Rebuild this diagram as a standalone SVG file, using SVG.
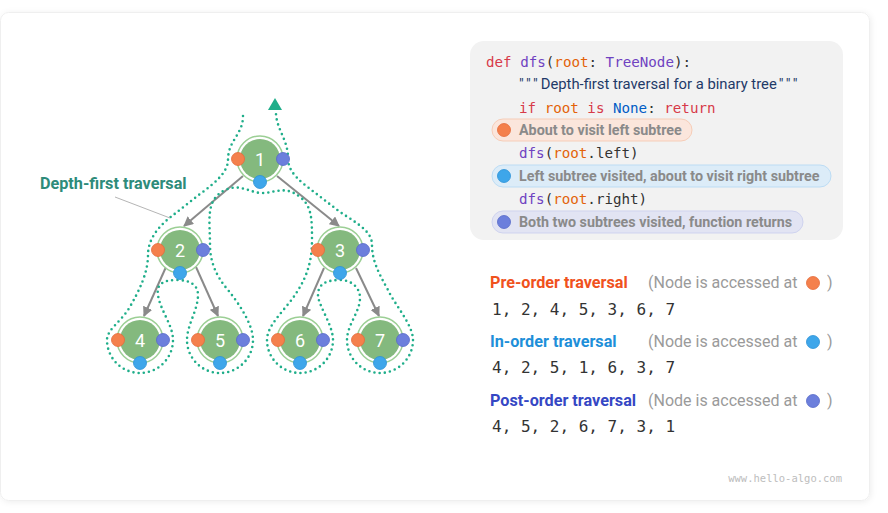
<svg xmlns="http://www.w3.org/2000/svg" width="888" height="513" viewBox="0 0 888 513">
<defs>
<filter id="sh" x="-5%" y="-5%" width="110%" height="110%"><feDropShadow dx="1" dy="1" stdDeviation="3" flood-color="#000" flood-opacity="0.07"/></filter>
<marker id="ah" viewBox="0 0 10 10" refX="9" refY="5" markerWidth="5" markerHeight="5" orient="auto-start-reverse" markerUnits="strokeWidth"><path d="M0,0 L10,5 L0,10 z" fill="#8a8a8a"/></marker>
<style>
.edge{stroke:#8a8a8a;stroke-width:2;fill:none}
.ring{fill:#fff;stroke:#9ccf95;stroke-width:1.5}
.nf{fill:#84b97e}
.nt{font-family:Roboto,"Liberation Sans",sans-serif;font-size:18px;fill:#fff;text-anchor:middle}
.po{fill:#f4804c;stroke:#e56a38;stroke-width:0.8}
.pb{fill:#3ea6ea;stroke:#2a90d6;stroke-width:0.8}
.pp{fill:#6c7fdc;stroke:#5568c8;stroke-width:0.8}
.trail{fill:none;stroke:#1fae8a;stroke-width:2.6;stroke-dasharray:0 5.2;stroke-linecap:round}
.code{font-family:"DejaVu Sans Mono","Liberation Mono",monospace;font-size:14.2px;fill:#333}
.kw{fill:#d73a49}.fn{fill:#6f42c1}.ar{fill:#e36209}.bl{fill:#005cc5}
.doc{font-family:Roboto,"Liberation Sans",sans-serif;font-size:14.8px;fill:#1f3a68}
.pill{font-family:Roboto,"Liberation Sans",sans-serif;font-size:14.3px;font-weight:bold;fill:#8a8a8a}
.h{font-family:Roboto,"Liberation Sans",sans-serif;font-size:16.2px;font-weight:bold}
.note{font-family:Roboto,"Liberation Sans",sans-serif;font-size:16px;fill:#9a9a9a}
.seq{font-family:"DejaVu Sans Mono","Liberation Mono",monospace;font-size:16px;fill:#333}
</style>
</defs>
<rect x="0.5" y="12.5" width="869" height="488" rx="8" fill="#fff" stroke="#efefef" filter="url(#sh)"/>

<g id="connectors">
<line class="edge" x1="243" y1="176" x2="184" y2="226" marker-end="url(#ah)"/>
<line class="edge" x1="277" y1="176" x2="339" y2="226" marker-end="url(#ah)"/>
<line class="edge" x1="166" y1="267" x2="144" y2="316" marker-end="url(#ah)"/>
<line class="edge" x1="196" y1="267" x2="218" y2="316" marker-end="url(#ah)"/>
<line class="edge" x1="324" y1="268" x2="303" y2="316" marker-end="url(#ah)"/>
<line class="edge" x1="356" y1="268" x2="379" y2="316" marker-end="url(#ah)"/>
</g>

<g id="trail">
<path class="trail" d="M 243 116 C 243 135, 228 140, 228 160 C 228 172, 215 183, 200 194 L 172 216 C 160 225, 148 238, 148 255 C 148 272, 140 290, 128 310 C 120 322, 107 330, 107 340 A 33 33 0 0 0 173 340 C 173 325, 160 310, 158 295 C 156 283, 165 280, 177 280 C 190 280, 198 285, 198 295 C 198 310, 187 325, 187 340 A 33 33 0 0 0 253 340 C 253 325, 240 305, 228 290 C 215 275, 210 260, 210 245 C 210 220, 205 200, 225 190 C 240 183, 250 193, 262 193 C 275 193, 285 185, 300 197 C 312 206, 312 220, 312 240 C 312 265, 305 280, 295 295 C 285 310, 267 325, 267 340 A 33 33 0 0 0 333 340 C 333 325, 318 305, 318 295 C 318 283, 328 280, 340 280 C 352 280, 360 288, 360 298 C 360 312, 347 325, 347 340 A 33 33 0 0 0 413 340 C 413 325, 395 305, 388 290 C 378 272, 372 260, 372 245 C 372 232, 360 225, 340 212 L 305 185 C 293 175, 288 168, 288 158 C 288 140, 277 130, 276 114"/>
<polygon points="275,98 282,110 268,110" fill="#1fae8a"/>
</g>

<g id="label">
<text x="40" y="189" font-family="Roboto,'Liberation Sans',sans-serif" font-size="16.2" font-weight="bold" fill="#2e8b7a">Depth-first traversal</text>
<line x1="115" y1="197" x2="170" y2="218" stroke="#b5b5b5" stroke-width="1"/>
</g>

<g id="n1"><circle class="ring" cx="260" cy="159" r="23"/><circle class="nf" cx="260" cy="159" r="20"/><text class="nt" x="260" y="165.5">1</text><circle class="po" cx="238" cy="159" r="6.5"/><circle class="pp" cx="283" cy="159" r="6.5"/><circle class="pb" cx="260" cy="182" r="6.5"/></g>
<g id="n2"><circle class="ring" cx="180" cy="250" r="23"/><circle class="nf" cx="180" cy="250" r="20"/><text class="nt" x="180" y="256.5">2</text><circle class="po" cx="158" cy="250" r="6.5"/><circle class="pp" cx="203" cy="250" r="6.5"/><circle class="pb" cx="180" cy="273" r="6.5"/></g>
<g id="n3"><circle class="ring" cx="340" cy="250" r="23"/><circle class="nf" cx="340" cy="250" r="20"/><text class="nt" x="340" y="256.5">3</text><circle class="po" cx="318" cy="250" r="6.5"/><circle class="pp" cx="363" cy="250" r="6.5"/><circle class="pb" cx="340" cy="273" r="6.5"/></g>
<g id="n4"><circle class="ring" cx="140" cy="340" r="23"/><circle class="nf" cx="140" cy="340" r="20"/><text class="nt" x="140" y="346.5">4</text><circle class="po" cx="118" cy="340" r="6.5"/><circle class="pp" cx="163" cy="340" r="6.5"/><circle class="pb" cx="140" cy="363" r="6.5"/></g>
<g id="n5"><circle class="ring" cx="220" cy="340" r="23"/><circle class="nf" cx="220" cy="340" r="20"/><text class="nt" x="220" y="346.5">5</text><circle class="po" cx="198" cy="340" r="6.5"/><circle class="pp" cx="243" cy="340" r="6.5"/><circle class="pb" cx="220" cy="363" r="6.5"/></g>
<g id="n6"><circle class="ring" cx="300" cy="340" r="23"/><circle class="nf" cx="300" cy="340" r="20"/><text class="nt" x="300" y="346.5">6</text><circle class="po" cx="278" cy="340" r="6.5"/><circle class="pp" cx="323" cy="340" r="6.5"/><circle class="pb" cx="300" cy="363" r="6.5"/></g>
<g id="n7"><circle class="ring" cx="380" cy="340" r="23"/><circle class="nf" cx="380" cy="340" r="20"/><text class="nt" x="380" y="346.5">7</text><circle class="po" cx="358" cy="340" r="6.5"/><circle class="pp" cx="403" cy="340" r="6.5"/><circle class="pb" cx="380" cy="363" r="6.5"/></g>

<g id="code">
<rect x="470" y="41" width="373" height="199" rx="14" fill="#f2f2f2"/>
<text class="code" x="486" y="67"><tspan class="kw">def</tspan> <tspan class="fn">dfs</tspan>(<tspan class="ar">root</tspan>: <tspan class="fn">TreeNode</tspan>):</text>
<text class="doc" x="519" y="89"><tspan letter-spacing="3">"""</tspan>Depth-first traversal for a binary tree<tspan dx="2" letter-spacing="3">"""</tspan></text>
<text class="code" x="519" y="113"><tspan class="kw">if</tspan> <tspan class="ar">root</tspan> <tspan class="kw">is</tspan> <tspan class="bl">None</tspan>: <tspan class="kw">return</tspan></text>
<rect x="492" y="119" width="200" height="22" rx="11" fill="#fbe6dc" stroke="#f6cdb8" stroke-width="1"/>
<circle class="po" cx="504" cy="130" r="6.5"/>
<text class="pill" x="519" y="135">About to visit left subtree</text>
<text class="code" x="519" y="158"><tspan class="fn">dfs</tspan>(<tspan class="ar">root</tspan>.left)</text>
<rect x="492" y="165" width="339" height="22" rx="11" fill="#dcecf8" stroke="#bcdcf4" stroke-width="1"/>
<circle class="pb" cx="504" cy="176" r="6.5"/>
<text class="pill" x="519" y="181">Left subtree visited, about to visit right subtree</text>
<text class="code" x="519" y="204"><tspan class="fn">dfs</tspan>(<tspan class="ar">root</tspan>.right)</text>
<rect x="492" y="211" width="311" height="22" rx="11" fill="#e2e4f3" stroke="#cfd3ef" stroke-width="1"/>
<circle class="pp" cx="504" cy="222" r="6.5"/>
<text class="pill" x="519" y="227">Both two subtrees visited, function returns</text>
</g>

<g id="orders">
<text class="h" x="490" y="288" fill="#f0521d">Pre-order traversal</text>
<text class="note" x="648" y="288">(Node is accessed at</text>
<circle class="po" cx="813" cy="283" r="6.5"/>
<text class="note" x="827" y="288">)</text>
<text class="seq" x="492" y="315">1, 2, 4, 5, 3, 6, 7</text>

<text class="h" x="490" y="347" fill="#1e8fd9">In-order traversal</text>
<text class="note" x="648" y="347">(Node is accessed at</text>
<circle class="pb" cx="813" cy="342" r="6.5"/>
<text class="note" x="827" y="347">)</text>
<text class="seq" x="492" y="373">4, 2, 5, 1, 6, 3, 7</text>

<text class="h" x="490" y="406" fill="#3547c4">Post-order traversal</text>
<text class="note" x="648" y="406">(Node is accessed at</text>
<circle class="pp" cx="813" cy="401" r="6.5"/>
<text class="note" x="827" y="406">)</text>
<text class="seq" x="492" y="432">4, 5, 2, 6, 7, 3, 1</text>
</g>

<text x="842" y="482" text-anchor="end" font-family="'DejaVu Sans Mono','Liberation Mono',monospace" font-size="10.5" fill="#bdbdbd">www.hello-algo.com</text>
</svg>
